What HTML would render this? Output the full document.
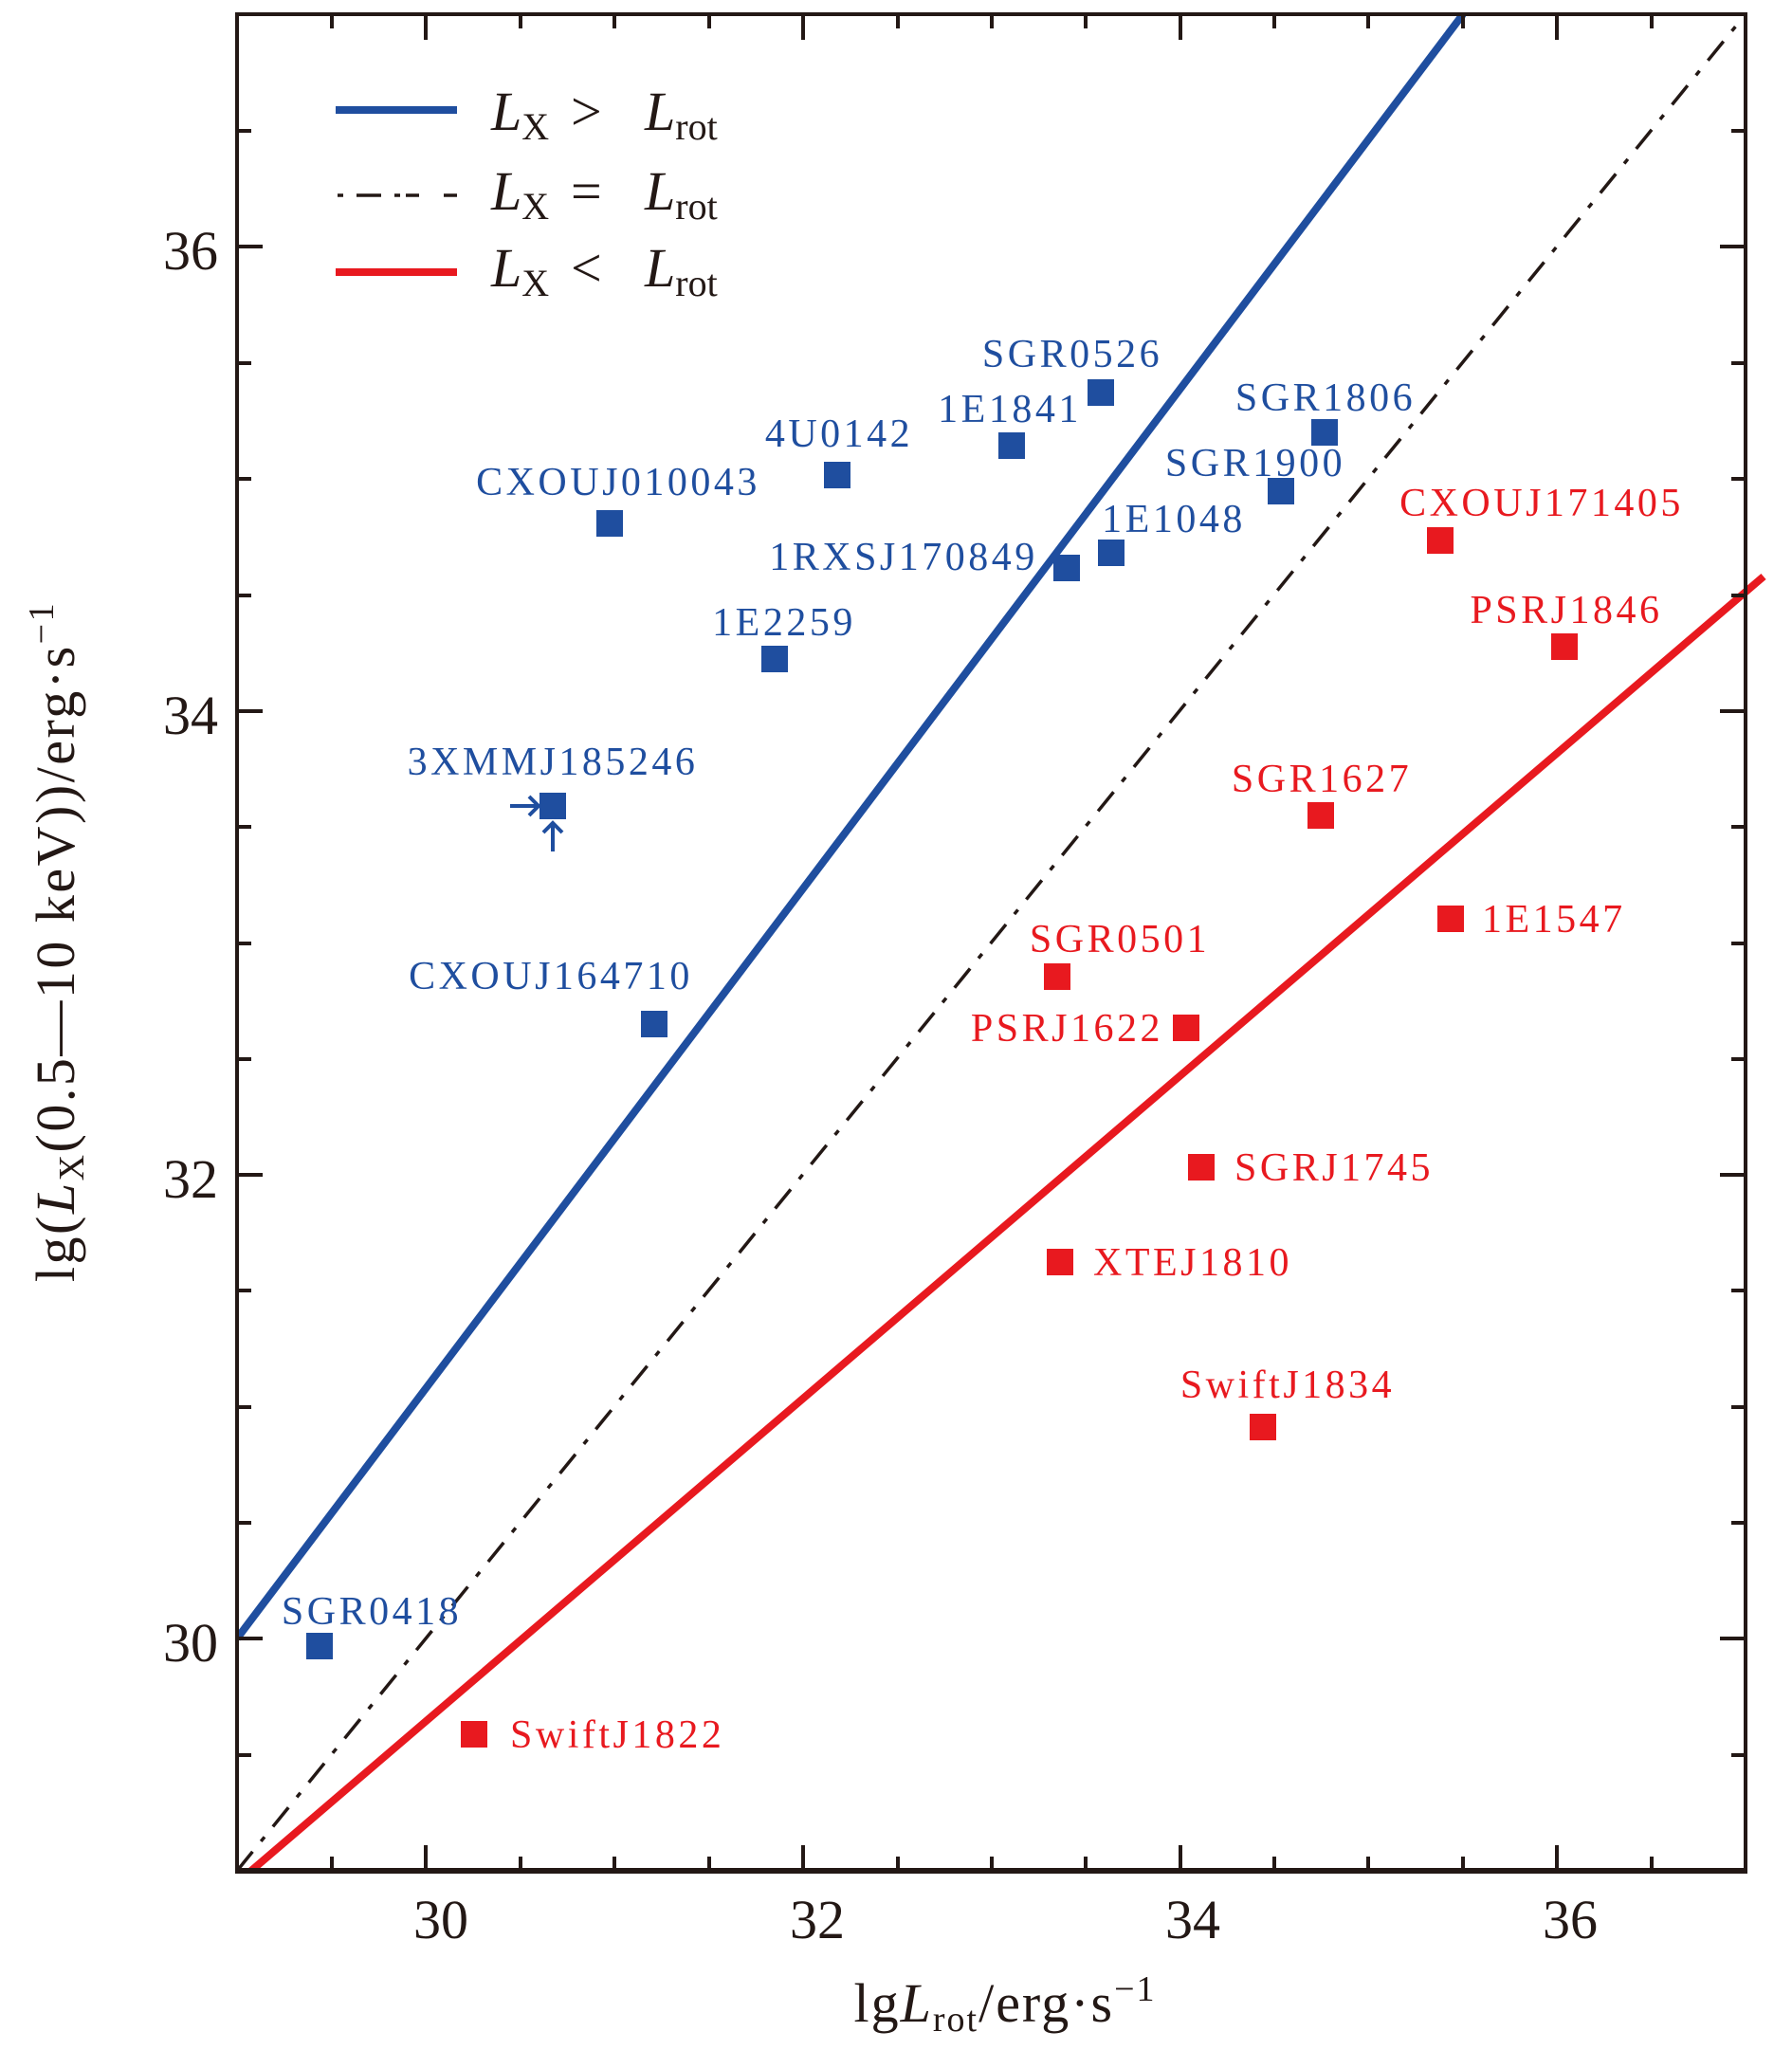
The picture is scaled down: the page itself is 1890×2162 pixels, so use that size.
<!DOCTYPE html>
<html><head><meta charset="utf-8"><style>
html,body{margin:0;padding:0;background:#fff;}
svg{display:block;}
text{font-family:"Liberation Serif",serif;}
.b{fill:#1f4e9f;font-size:42px;letter-spacing:3.5px;}
.r{fill:#e8191f;font-size:42px;letter-spacing:3.5px;}
.t{fill:#231815;font-size:58px;}
</style></head><body>
<svg width="1890" height="2162" viewBox="0 0 1890 2162" xmlns="http://www.w3.org/2000/svg">
<defs><clipPath id="c"><rect x="250" y="15" width="1640" height="1958"/></clipPath></defs>
<g clip-path="url(#c)">
<line x1="250" y1="1728" x2="1543" y2="15" stroke="#1f4e9f" stroke-width="8"/>
<line x1="245" y1="1990" x2="1860" y2="608" stroke="#e8191f" stroke-width="8"/>
<line x1="250" y1="1973" x2="1841" y2="15" stroke="#231815" stroke-width="3.5" stroke-dasharray="26,14,6,14"/>
</g>
<g stroke="#231815" fill="none">
<rect x="250" y="15" width="1591" height="1958" stroke-width="4"/>
<line x1="248" y1="1973" x2="1843" y2="1973" stroke-width="6"/>
</g>
<g stroke="#231815" stroke-width="4">
<path d="M449 1973v-27M847 1973v-27M1245 1973v-27M1642 1973v-27M350 1973v-15M549 1973v-15M648 1973v-15M748 1973v-15M947 1973v-15M1046 1973v-15M1145 1973v-15M1344 1973v-15M1443 1973v-15M1543 1973v-15M1742 1973v-15"/>
<path d="M449 15v27M847 15v27M1245 15v27M1642 15v27M350 15v15M549 15v15M648 15v15M748 15v15M947 15v15M1046 15v15M1145 15v15M1344 15v15M1443 15v15M1543 15v15M1742 15v15"/>
<path d="M250 260h27M250 750h27M250 1239h27M250 1728h27M250 138h15M250 383h15M250 505h15M250 628h15M250 872h15M250 995h15M250 1117h15M250 1361h15M250 1484h15M250 1606h15M250 1851h15"/>
<path d="M1841 260h-27M1841 750h-27M1841 1239h-27M1841 1728h-27M1841 138h-15M1841 383h-15M1841 505h-15M1841 628h-15M1841 872h-15M1841 995h-15M1841 1117h-15M1841 1361h-15M1841 1484h-15M1841 1606h-15M1841 1851h-15"/>
</g>
<g class="t" text-anchor="end">
<text x="230" y="284">36</text><text x="230" y="774">34</text><text x="230" y="1263">32</text><text x="230" y="1752">30</text>
</g>
<g class="t" text-anchor="middle">
<text x="465" y="2044">30</text><text x="862" y="2044">32</text><text x="1258" y="2044">34</text><text x="1656" y="2044">36</text>
</g>
<text class="t" x="1060" y="2132" text-anchor="middle" letter-spacing="2">lg<tspan font-style="italic">L</tspan><tspan font-size="38" dy="10">rot</tspan><tspan dy="-10">/erg·s</tspan><tspan font-size="38" dy="-22">−1</tspan></text>
<text class="t" transform="translate(78,993) rotate(-90)" text-anchor="middle" letter-spacing="2.5">lg(<tspan font-style="italic">L</tspan><tspan font-size="38" dy="10">X</tspan><tspan dy="-10">(0.5—10 keV))/erg·s</tspan><tspan font-size="38" dy="-22">−1</tspan></text>
<line x1="354" y1="116" x2="482" y2="116" stroke="#1f4e9f" stroke-width="8"/>
<line x1="356" y1="206" x2="482" y2="206" stroke="#231815" stroke-width="3.5" stroke-dasharray="6,14,26,14,6"/>
<line x1="354" y1="287" x2="482" y2="287" stroke="#e8191f" stroke-width="8"/>
<g class="t">
<text y="137"><tspan x="518" font-style="italic">L</tspan><tspan font-size="40" dy="10">X</tspan><tspan x="602" dy="-10">&gt;</tspan><tspan x="680" font-style="italic">L</tspan><tspan font-size="40" dy="10">rot</tspan></text>
<text y="221"><tspan x="518" font-style="italic">L</tspan><tspan font-size="40" dy="10">X</tspan><tspan x="602" dy="-10">=</tspan><tspan x="680" font-style="italic">L</tspan><tspan font-size="40" dy="10">rot</tspan></text>
<text y="302"><tspan x="518" font-style="italic">L</tspan><tspan font-size="40" dy="10">X</tspan><tspan x="602" dy="-10">&lt;</tspan><tspan x="680" font-style="italic">L</tspan><tspan font-size="40" dy="10">rot</tspan></text>
</g>
<g fill="#1f4e9f">
<rect x="1147" y="400" width="28" height="28"/>
<rect x="1053" y="456" width="28" height="28"/>
<rect x="869" y="487" width="28" height="28"/>
<rect x="629" y="538" width="28" height="28"/>
<rect x="1383" y="442" width="28" height="28"/>
<rect x="1337" y="504" width="28" height="28"/>
<rect x="1158" y="569" width="28" height="28"/>
<rect x="1111" y="585" width="28" height="28"/>
<rect x="803" y="681" width="28" height="28"/>
<rect x="569" y="836" width="28" height="28"/>
<rect x="676" y="1066" width="28" height="28"/>
<rect x="323" y="1722" width="28" height="28"/>
</g>
<g stroke="#1f4e9f" stroke-width="4" fill="none">
<path d="M538 850h30M558 840l10 10l-10 10"/>
<path d="M583 898v-30M573 878l10-10l10 10"/>
</g>
<g class="b" text-anchor="middle">
<text x="1131" y="387">SGR0526</text>
<text x="1065" y="445">1E1841</text>
<text x="885" y="471">4U0142</text>
<text x="652" y="522">CXOUJ010043</text>
<text x="1398" y="433">SGR1806</text>
<text x="1324" y="502">SGR1900</text>
<text x="1238" y="561">1E1048</text>
<text x="953" y="601">1RXSJ170849</text>
<text x="827" y="670">1E2259</text>
<text x="583" y="817">3XMMJ185246</text>
<text x="581" y="1043">CXOUJ164710</text>
<text x="392" y="1713">SGR0418</text>
</g>
<g fill="#e8191f">
<rect x="1505" y="556" width="28" height="28"/>
<rect x="1636" y="668" width="28" height="28"/>
<rect x="1379" y="846" width="28" height="28"/>
<rect x="1516" y="955" width="28" height="28"/>
<rect x="1101" y="1016" width="28" height="28"/>
<rect x="1237" y="1070" width="28" height="28"/>
<rect x="1253" y="1217" width="28" height="28"/>
<rect x="1104" y="1317" width="28" height="28"/>
<rect x="1318" y="1491" width="28" height="28"/>
<rect x="486" y="1815" width="28" height="28"/>
</g>
<g class="r" text-anchor="middle">
<text x="1626" y="544">CXOUJ171405</text>
<text x="1652" y="657">PSRJ1846</text>
<text x="1394" y="835">SGR1627</text>
<text x="1181" y="1004">SGR0501</text>
<text x="1358" y="1474">SwiftJ1834</text>
</g>
<g class="r">
<text x="1563" y="983">1E1547</text>
<text x="1227" y="1098" text-anchor="end">PSRJ1622</text>
<text x="1302" y="1245">SGRJ1745</text>
<text x="1153" y="1345">XTEJ1810</text>
<text x="538" y="1843">SwiftJ1822</text>
</g>
</svg>
</body></html>
